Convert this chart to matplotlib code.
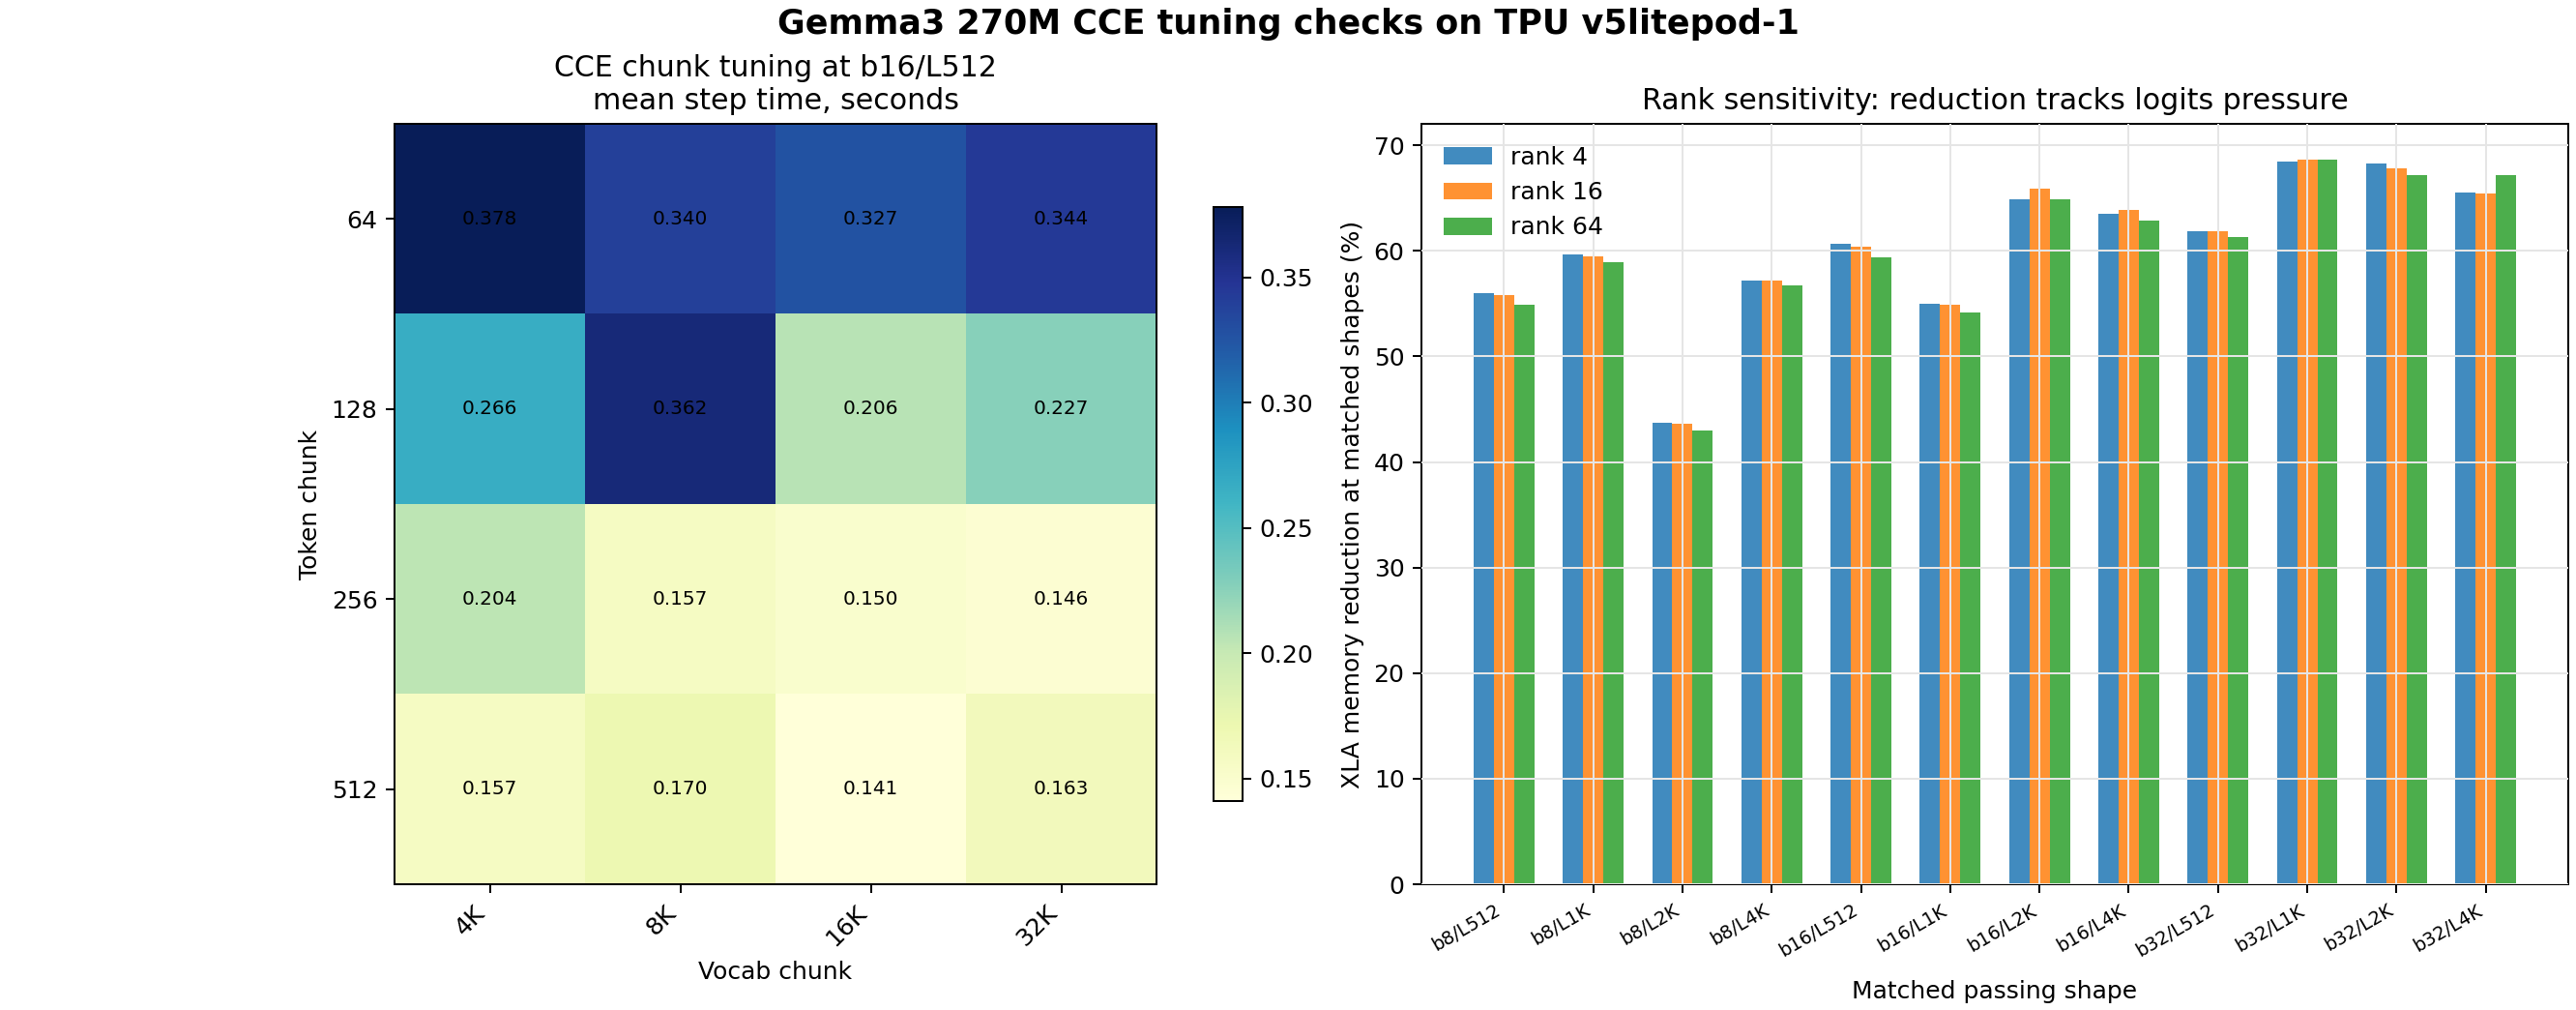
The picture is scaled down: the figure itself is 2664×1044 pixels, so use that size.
import numpy as np
import matplotlib
matplotlib.use('Agg')
import matplotlib.pyplot as plt

# heatmap: mean step time (s) at b16/L512
token_chunks = ['64', '128', '256', '512']
vocab_chunks = ['4K', '8K', '16K', '32K']
step_time = [
    [0.378, 0.340, 0.327, 0.344],
    [0.266, 0.362, 0.206, 0.227],
    [0.204, 0.157, 0.150, 0.146],
    [0.157, 0.170, 0.141, 0.163],
]

# rank sensitivity: XLA memory reduction (%)
shapes = ['b8/L512', 'b8/L1K', 'b8/L2K', 'b8/L4K',
          'b16/L512', 'b16/L1K', 'b16/L2K', 'b16/L4K',
          'b32/L512', 'b32/L1K', 'b32/L2K', 'b32/L4K']
rank4 = [56.0, 59.7, 43.7, 57.2, 60.7, 55.0, 64.9, 63.5, 61.9, 68.5, 68.3, 65.5]
rank16 = [55.8, 59.5, 43.6, 57.2, 60.4, 54.9, 65.9, 63.9, 61.9, 68.6, 67.8, 65.4]
rank64 = [54.9, 58.9, 43.0, 56.7, 59.4, 54.2, 64.9, 62.9, 61.3, 68.6, 67.2, 67.2]

W, H, DPI = 2664, 1044, 180
fig = plt.figure(figsize=(W / DPI, H / DPI), dpi=DPI)

ax1 = fig.add_axes([408 / W, 1 - 914 / H, 788 / W, 786 / H])
cax = fig.add_axes([1255 / W, 1 - 828 / H, 30 / W, 614 / H])
ax2 = fig.add_axes([1470 / W, 1 - 914 / H, 1186 / W, 786 / H])

data = np.array(step_time)
im = ax1.imshow(data, cmap='YlGnBu', aspect='auto')
ax1.set_xticks(range(len(vocab_chunks)))
ax1.set_xticklabels(vocab_chunks, rotation=45, ha='right')
ax1.set_yticks(range(len(token_chunks)))
ax1.set_yticklabels(token_chunks)
ax1.set_xlabel('Vocab chunk')
ax1.set_ylabel('Token chunk')
ax1.set_title('CCE chunk tuning at b16/L512\nmean step time, seconds')
for i in range(data.shape[0]):
    for j in range(data.shape[1]):
        ax1.text(j, i, '{:.3f}'.format(data[i, j]), ha='center', va='center',
                 fontsize=8, color='black')
fig.colorbar(im, cax=cax)

x = np.arange(len(shapes))
width = 0.227
ax2.bar(x - width, rank4, width, label='rank 4', color='tab:blue', alpha=0.85)
ax2.bar(x, rank16, width, label='rank 16', color='tab:orange', alpha=0.85)
ax2.bar(x + width, rank64, width, label='rank 64', color='tab:green', alpha=0.85)
ax2.set_xticks(x)
ax2.set_xticklabels(shapes, rotation=30, ha='right', fontsize=7.7)
ax2.set_xlabel('Matched passing shape', labelpad=8)
ax2.set_ylabel('XLA memory reduction at matched shapes (%)')
ax2.set_title('Rank sensitivity: reduction tracks logits pressure')
ax2.set_axisbelow(False)
ax2.grid(True, color='#e5e5e5')
ax2.legend(loc='upper left', frameon=False)

fig.suptitle('Gemma3 270M CCE tuning checks on TPU v5litepod-1',
             fontsize=14, fontweight='bold', y=0.992)

plt.savefig('out.png', dpi=DPI)
